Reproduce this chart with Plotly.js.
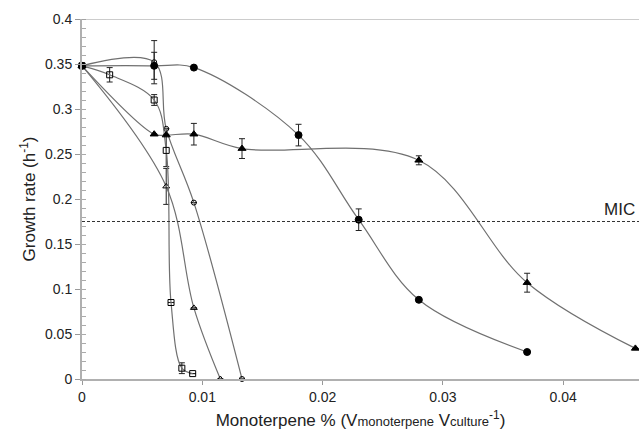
<!DOCTYPE html>
<html>
<head>
<meta charset="utf-8">
<script src="https://cdn.plot.ly/plotly-3.0.1.min.js"></script>
<style>
  html, body { margin: 0; padding: 0; background: #fff; }
  #chart { width: 639px; height: 440px; }
</style>
</head>
<body>
<div id="chart"></div>
<script>
// Filled circles
const fcX = [0, 0.006, 0.0093, 0.018, 0.023, 0.028, 0.037];
const fcY = [0.348, 0.348, 0.346, 0.271, 0.177, 0.088, 0.030];
const fcE = [0.003, 0.015, 0, 0.012, 0.012, 0, 0];

// Filled triangles
const ftX = [0, 0.006, 0.007, 0.0093, 0.0133, 0.028, 0.037, 0.046];
const ftY = [0.348, 0.272, 0.271, 0.272, 0.256, 0.243, 0.107, 0.034];
const ftE = [0, 0, 0, 0.012, 0.011, 0.005, 0.0105, 0];

// Open squares
const osX = [0, 0.0023, 0.006, 0.007, 0.0074, 0.0083, 0.0092];
const osY = [0.348, 0.338, 0.310, 0.254, 0.085, 0.012, 0.006];
const osE = [0, 0.008, 0.006, 0.018, 0, 0.006, 0];

// Open circles
const ocX = [0, 0.006, 0.007, 0.0093, 0.0133];
const ocY = [0.348, 0.352, 0.278, 0.196, 0.0];
const ocE = [0, 0.024, 0, 0, 0];

// Open triangles
const otX = [0, 0.007, 0.0093, 0.0115];
const otY = [0.348, 0.214, 0.079, 0.0];
const otE = [0, 0.02, 0, 0];

// MIC threshold
const micY = 0.175;
const micLabel = "MIC";

const xTicks = [0, 0.01, 0.02, 0.03, 0.04];
const xTickText = ["0", "0.01", "0.02", "0.03", "0.04"];
const yTicks = [0, 0.05, 0.1, 0.15, 0.2, 0.25, 0.3, 0.35, 0.4];
const yTickText = ["0", "0.05", "0.1", "0.15", "0.2", "0.25", "0.3", "0.35", "0.4"];

function series(x, y, e, symbol, size) {
  return {
    x: x, y: y, type: 'scatter', mode: 'lines+markers',
    line: { shape: 'spline', smoothing: 1, color: '#707070', width: 1.2 },
    marker: { symbol: symbol, size: size, color: '#000', line: { color: '#000', width: 1 } },
    error_y: { type: 'data', array: e, visible: true, color: '#222', thickness: 1, width: 3 },
    cliponaxis: false, showlegend: false, hoverinfo: 'skip'
  };
}

const data = [
  series(otX, otY, otE, 'triangle-up-open', 6),
  series(ocX, ocY, ocE, 'circle-open', 5),
  series(osX, osY, osE, 'square-open', 6),
  series(ftX, ftY, ftE, 'triangle-up', 7),
  series(fcX, fcY, fcE, 'circle', 7)
];

const layout = {
  width: 639, height: 440,
  margin: { l: 82, r: 0, t: 19, b: 61 },
  paper_bgcolor: '#fff', plot_bgcolor: '#fff',
  font: { family: 'Liberation Sans, Arial, sans-serif', color: '#222' },
  xaxis: {
    range: [0, 0.0463], showgrid: false, zeroline: false,
    showline: true, linecolor: '#b0b0b0', linewidth: 2,
    tickmode: 'array', tickvals: xTicks, ticktext: xTickText,
    ticks: 'outside', ticklen: 4, tickcolor: '#999', tickwidth: 1,
    tickfont: { size: 14, color: '#222' },
    title: { text: 'Monoterpene % (V<span style="font-size:13px">monoterpene</span> V<span style="font-size:13px">culture</span><sup>-1</sup>)', font: { size: 17, color: '#222' }, standoff: 10 }
  },
  yaxis: {
    range: [0, 0.4], showgrid: false, zeroline: false,
    showline: true, linecolor: '#b0b0b0', linewidth: 2,
    tickmode: 'array', tickvals: yTicks, ticktext: yTickText,
    ticks: 'outside', ticklen: 5, tickcolor: '#999', tickwidth: 1,
    tickfont: { size: 14, color: '#222' },
    minor: { dtick: 0.01, ticks: 'inside', ticklen: 4, tickcolor: '#aaa', tickwidth: 1 },
    title: { text: 'Growth rate (h<sup>-1</sup>)', font: { size: 17, color: '#222' }, standoff: 5 }
  },
  shapes: [
    { type: 'line', xref: 'paper', yref: 'y', x0: 0, x1: 1, y0: 0.4, y1: 0.4, line: { color: '#999', width: 1 } },
    { type: 'line', xref: 'paper', yref: 'y', x0: 0, x1: 1, y0: micY, y1: micY, line: { color: '#333', width: 1, dash: '3px,2px' } }
  ],
  annotations: [
    { xref: 'paper', yref: 'y', x: 1, y: micY, text: micLabel, showarrow: false, xanchor: 'right', yanchor: 'bottom', yshift: 1, xshift: -2, font: { size: 17, color: '#222' } }
  ]
};

Plotly.newPlot('chart', data, layout, { displayModeBar: false, staticPlot: true });
</script>
</body>
</html>
